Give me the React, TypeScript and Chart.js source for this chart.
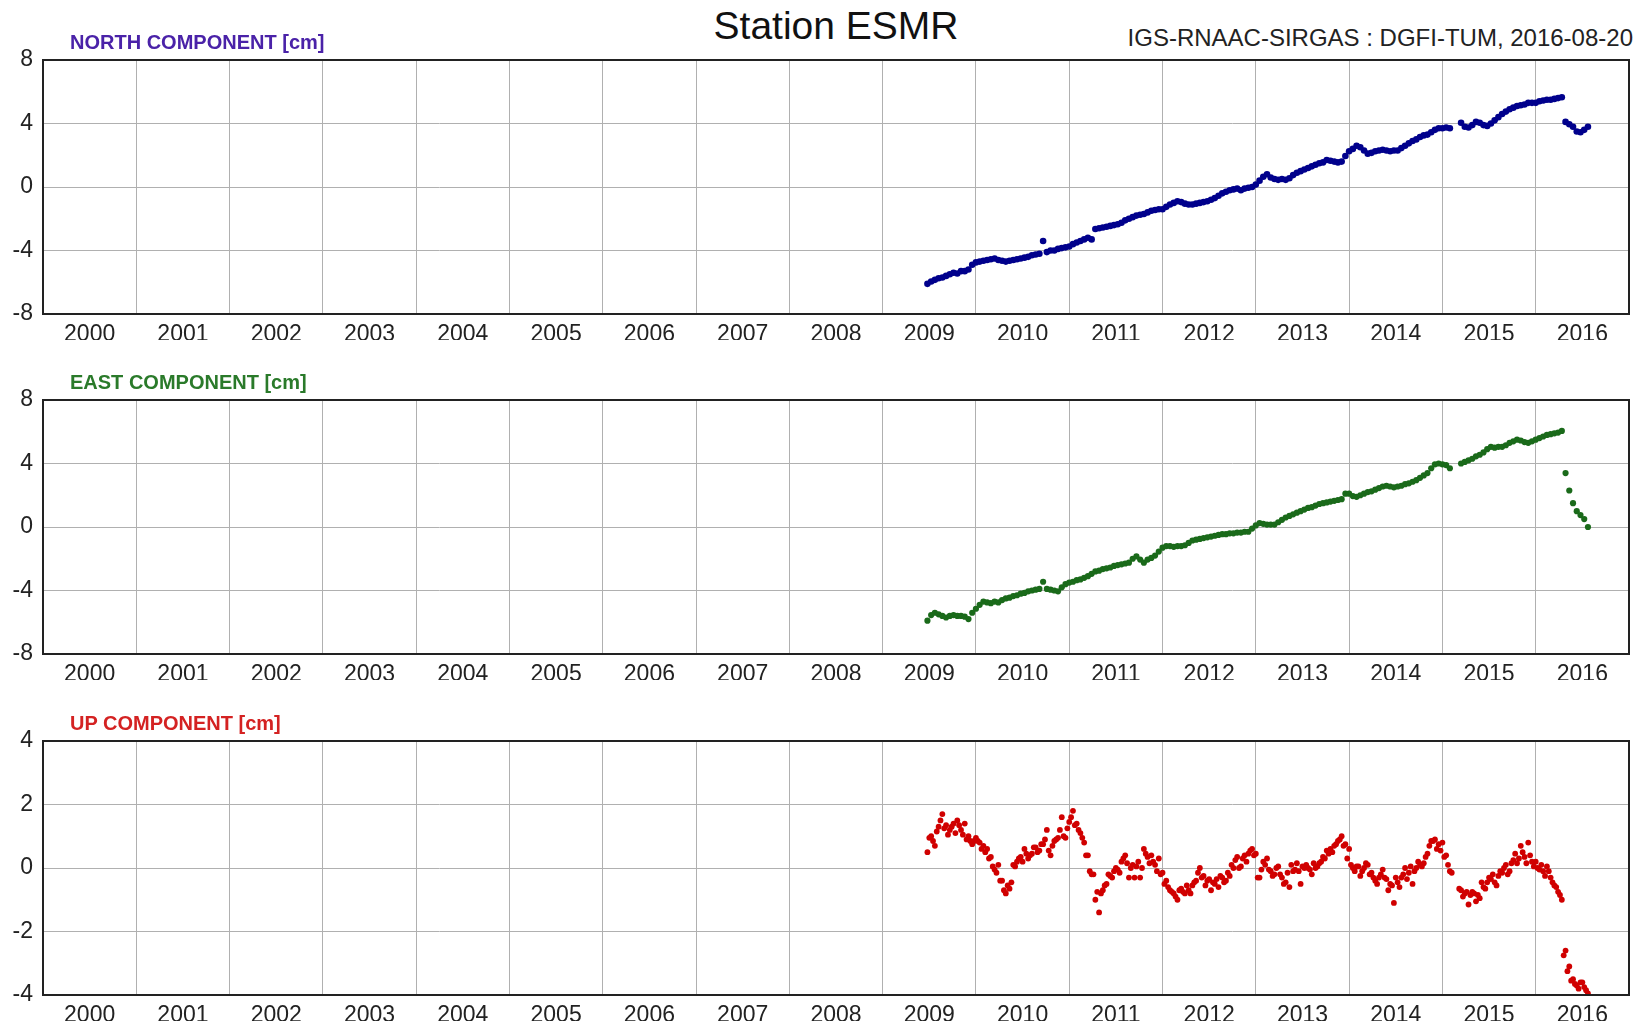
import React, { useEffect, useRef } from 'react';
import { Chart, registerables } from 'chart.js';

Chart.register(...registerables);

// ---- data -------------------------------------------------------------
// bi-weekly solution epochs (decimal years)
const epochs: number[] = [
  2009.48, 2009.52, 2009.56, 2009.60, 2009.64, 2009.68, 2009.72, 2009.76, 2009.80, 2009.84, 2009.88, 2009.92, 2009.96,
  2010.00, 2010.04, 2010.08, 2010.12, 2010.16, 2010.20, 2010.24, 2010.28, 2010.32, 2010.36, 2010.40, 2010.44, 2010.48, 2010.52, 2010.56, 2010.60, 2010.64, 2010.68, 2010.72, 2010.76, 2010.80, 2010.84, 2010.88, 2010.92, 2010.96,
  2011.00, 2011.04, 2011.08, 2011.12, 2011.16, 2011.20, 2011.24, 2011.28, 2011.32, 2011.36, 2011.40, 2011.44, 2011.48, 2011.52, 2011.56, 2011.60, 2011.64, 2011.68, 2011.72, 2011.76, 2011.80, 2011.84, 2011.88, 2011.92, 2011.96,
  2012.00, 2012.04, 2012.08, 2012.12, 2012.16, 2012.20, 2012.24, 2012.28, 2012.32, 2012.36, 2012.40, 2012.44, 2012.48, 2012.52, 2012.56, 2012.60, 2012.64, 2012.68, 2012.72, 2012.76, 2012.80, 2012.84, 2012.88, 2012.92, 2012.96,
  2013.00, 2013.04, 2013.08, 2013.12, 2013.16, 2013.20, 2013.24, 2013.28, 2013.32, 2013.36, 2013.40, 2013.44, 2013.48, 2013.52, 2013.56, 2013.60, 2013.64, 2013.68, 2013.72, 2013.76, 2013.80, 2013.84, 2013.88, 2013.92, 2013.96,
  2014.00, 2014.04, 2014.08, 2014.12, 2014.16, 2014.20, 2014.24, 2014.28, 2014.32, 2014.36, 2014.40, 2014.44, 2014.48, 2014.52, 2014.56, 2014.60, 2014.64, 2014.68, 2014.72, 2014.76, 2014.80, 2014.84, 2014.88, 2014.92, 2014.96,
  2015.00, 2015.04, 2015.08, 2015.12, 2015.16, 2015.20, 2015.24, 2015.28, 2015.32, 2015.36, 2015.40, 2015.44, 2015.48, 2015.52, 2015.56, 2015.60, 2015.64, 2015.68, 2015.72, 2015.76, 2015.80, 2015.84, 2015.88, 2015.92, 2015.96,
  2016.00, 2016.04, 2016.08, 2016.12, 2016.16, 2016.20, 2016.24, 2016.28, 2016.32, 2016.36, 2016.40, 2016.44, 2016.48, 2016.52, 2016.56,
];

const north: (number | null)[] = [
  -6.10, -5.95, -5.85, -5.75, -5.70, -5.60, -5.50, -5.40, -5.45, -5.30, -5.30, -5.20, -4.90,
  -4.75, -4.70, -4.65, -4.60, -4.55, -4.50, -4.60, -4.65, -4.70, -4.65, -4.60, -4.55, -4.50, -4.45, -4.40, -4.30, -4.25, -4.20, -3.40, -4.10, -4.00, -4.00, -3.90, -3.85, -3.80,
  -3.75, -3.60, -3.50, -3.40, -3.30, -3.20, -3.30, -2.65, -2.60, -2.55, -2.50, -2.45, -2.40, -2.35, -2.25, -2.10, -2.00, -1.90, -1.80, -1.75, -1.70, -1.60, -1.50, -1.45, -1.40,
  -1.40, -1.25, -1.10, -1.00, -0.90, -0.95, -1.05, -1.10, -1.10, -1.05, -1.00, -0.95, -0.90, -0.80, -0.70, -0.55, -0.40, -0.30, -0.20, -0.15, -0.10, -0.20, -0.10, -0.05, 0.00,
  0.15, 0.40, 0.65, 0.80, 0.60, 0.50, 0.45, 0.50, 0.45, 0.55, 0.75, 0.90, 1.00, 1.10, 1.20, 1.30, 1.40, 1.50, 1.55, 1.70, 1.65, 1.60, 1.55, 1.60, 1.95,
  2.25, 2.40, 2.60, 2.50, 2.30, 2.10, 2.15, 2.25, 2.30, 2.35, 2.30, 2.25, 2.30, 2.30, 2.45, 2.60, 2.75, 2.90, 3.00, 3.15, 3.25, 3.30, 3.45, 3.60, 3.70,
  3.70, 3.75, 3.70, null, null, 4.05, 3.80, 3.75, 3.90, 4.10, 4.05, 3.90, 3.85, 4.00, 4.20, 4.40, 4.60, 4.75, 4.90, 5.00, 5.10, 5.15, 5.20, 5.30, 5.30,
  5.30, 5.40, 5.45, 5.50, 5.50, 5.55, 5.60, 5.65, 4.10, 3.95, 3.80, 3.50, 3.45, 3.60, 3.80,
];

const east: (number | null)[] = [
  -5.90, -5.55, -5.40, -5.50, -5.60, -5.70, -5.60, -5.55, -5.60, -5.60, -5.65, -5.80, -5.40,
  -5.15, -4.90, -4.70, -4.75, -4.80, -4.70, -4.75, -4.60, -4.50, -4.45, -4.35, -4.30, -4.20, -4.15, -4.05, -4.00, -3.95, -3.90, -3.45, -3.90, -3.95, -4.00, -4.05, -3.80, -3.60,
  -3.50, -3.45, -3.35, -3.30, -3.20, -3.10, -2.95, -2.80, -2.75, -2.65, -2.60, -2.55, -2.45, -2.40, -2.35, -2.30, -2.25, -2.00, -1.85, -2.05, -2.25, -2.05, -1.95, -1.80, -1.55,
  -1.30, -1.20, -1.20, -1.25, -1.20, -1.20, -1.15, -1.00, -0.85, -0.80, -0.75, -0.70, -0.65, -0.60, -0.55, -0.50, -0.45, -0.45, -0.40, -0.40, -0.35, -0.35, -0.30, -0.30, -0.10,
  0.10, 0.25, 0.20, 0.15, 0.15, 0.15, 0.30, 0.45, 0.60, 0.70, 0.80, 0.90, 1.00, 1.10, 1.20, 1.25, 1.35, 1.45, 1.50, 1.55, 1.60, 1.65, 1.70, 1.75, 2.10,
  2.10, 1.95, 1.90, 2.00, 2.10, 2.20, 2.25, 2.35, 2.45, 2.55, 2.60, 2.55, 2.50, 2.55, 2.60, 2.70, 2.75, 2.85, 2.95, 3.10, 3.25, 3.40, 3.70, 3.95, 4.00,
  3.95, 3.90, 3.70, null, null, 4.00, 4.10, 4.20, 4.30, 4.45, 4.55, 4.70, 4.90, 5.05, 5.00, 5.05, 5.05, 5.15, 5.30, 5.40, 5.50, 5.45, 5.35, 5.30, 5.40,
  5.50, 5.60, 5.70, 5.80, 5.85, 5.90, 5.95, 6.05, 3.40, 2.30, 1.50, 1.00, 0.75, 0.50, 0.00,
];

const up: (number | null)[] = [
  0.50, 1.00, 0.70, 1.30, 1.70, 1.35, 1.20, 1.40, 1.50, 1.20, 1.40, 1.00, 0.75,
  0.95, 0.80, 0.70, 0.60, 0.35, -0.05, 0.10, -0.40, -0.80, -0.65, 0.10, 0.20, 0.35, 0.60, 0.30, 0.45, 0.65, 0.55, 0.75, 1.20, 0.40, 0.85, 0.95, 1.60, 0.95,
  1.45, 1.80, 1.40, 1.10, 0.80, 0.40, -0.20, -1.00, -1.40, -0.70, -0.50, -0.25, -0.10, -0.05, 0.20, 0.40, -0.30, 0.10, 0.05, -0.30, 0.60, 0.35, 0.40, 0.10, 0.30,
  -0.15, -0.40, -0.70, -0.80, -1.00, -0.65, -0.80, -0.70, -0.55, -0.40, 0.00, -0.25, -0.40, -0.70, -0.50, -0.60, -0.30, -0.40, -0.25, 0.00, 0.35, 0.05, 0.40, 0.45, 0.60,
  0.45, -0.30, 0.20, 0.30, -0.10, -0.20, 0.05, -0.30, -0.45, -0.60, -0.10, 0.15, -0.50, 0.00, 0.00, -0.20, 0.00, 0.15, 0.35, 0.55, 0.60, 0.70, 0.85, 1.00, 0.75,
  0.60, 0.00, 0.05, -0.25, 0.00, 0.10, -0.15, -0.40, -0.30, -0.05, -0.35, -0.50, -1.10, -0.45, -0.30, 0.00, -0.15, -0.50, 0.00, 0.10, 0.15, 0.45, 0.85, 0.90, 0.75,
  0.80, 0.40, -0.10, null, null, -0.70, -0.80, -1.15, -0.75, -1.05, -0.95, -0.60, -0.45, -0.35, -0.45, -0.25, -0.15, 0.10, -0.10, 0.25, 0.15, 0.70, 0.35, 0.80, 0.20,
  0.20, -0.05, -0.10, 0.05, -0.30, -0.55, -0.75, -1.00, -2.60, -3.10, -3.50, -3.70, -3.60, -3.75, -3.95,
];

// intermediate (in-between week) epochs of the vertical component
const upEpochsB: number[] = [
  2009.50, 2009.54, 2009.58, 2009.62, 2009.66, 2009.70, 2009.74, 2009.78, 2009.82, 2009.86, 2009.90, 2009.94, 2009.98,
  2010.02, 2010.06, 2010.10, 2010.14, 2010.18, 2010.22, 2010.26, 2010.30, 2010.34, 2010.38, 2010.42, 2010.46, 2010.50, 2010.54, 2010.58, 2010.62, 2010.66, 2010.70, 2010.74, 2010.78, 2010.82, 2010.86, 2010.90, 2010.94, 2010.98,
  2011.02, 2011.06, 2011.10, 2011.14, 2011.18, 2011.22, 2011.26, 2011.30, 2011.34, 2011.38, 2011.42, 2011.46, 2011.50, 2011.54, 2011.58, 2011.62, 2011.66, 2011.70, 2011.74, 2011.78, 2011.82, 2011.86, 2011.90, 2011.94, 2011.98,
  2012.02, 2012.06, 2012.10, 2012.14, 2012.18, 2012.22, 2012.26, 2012.30, 2012.34, 2012.38, 2012.42, 2012.46, 2012.50, 2012.54, 2012.58, 2012.62, 2012.66, 2012.70, 2012.74, 2012.78, 2012.82, 2012.86, 2012.90, 2012.94, 2012.98,
  2013.02, 2013.06, 2013.10, 2013.14, 2013.18, 2013.22, 2013.26, 2013.30, 2013.34, 2013.38, 2013.42, 2013.46, 2013.50, 2013.54, 2013.58, 2013.62, 2013.66, 2013.70, 2013.74, 2013.78, 2013.82, 2013.86, 2013.90, 2013.94, 2013.98,
  2014.02, 2014.06, 2014.10, 2014.14, 2014.18, 2014.22, 2014.26, 2014.30, 2014.34, 2014.38, 2014.42, 2014.46, 2014.50, 2014.54, 2014.58, 2014.62, 2014.66, 2014.70, 2014.74, 2014.78, 2014.82, 2014.86, 2014.90, 2014.94, 2014.98,
  2015.02, 2015.06, 2015.10, 2015.14, 2015.18, 2015.22, 2015.26, 2015.30, 2015.34, 2015.38, 2015.42, 2015.46, 2015.50, 2015.54, 2015.58, 2015.62, 2015.66, 2015.70, 2015.74, 2015.78, 2015.82, 2015.86, 2015.90, 2015.94, 2015.98,
  2016.02, 2016.06, 2016.10, 2016.14, 2016.18, 2016.22, 2016.26, 2016.30, 2016.34, 2016.38, 2016.42, 2016.46, 2016.50, 2016.54,
];

const upB: (number | null)[] = [
  0.95, 0.85, 1.15, 1.50, 1.25, 1.05, 1.30, 1.10, 1.35, 1.05, 0.90, 0.85, 0.85,
  0.85, 0.60, 0.50, 0.30, 0.05, -0.15, -0.40, -0.70, -0.55, -0.45, 0.05, 0.30, 0.20, 0.45, 0.40, 0.65, 0.50, 0.75, 0.90, 0.55, 0.70, 0.90, 1.20, 1.00, 1.25,
  1.60, 1.35, 1.20, 0.95, 0.40, -0.10, -0.20, -0.75, -0.80, -0.55, -0.20, -0.30, 0.00, -0.15, 0.30, 0.15, 0.00, -0.30, 0.20, 0.00, 0.45, 0.15, 0.20, -0.10, -0.20,
  -0.50, -0.60, -0.75, -0.90, -0.70, -0.75, -0.55, -0.80, -0.45, -0.15, -0.30, -0.55, -0.35, -0.45, -0.35, -0.25, -0.45, -0.15, 0.10, 0.25, 0.00, 0.30, 0.20, 0.55, 0.40,
  -0.30, -0.05, 0.10, -0.05, -0.25, 0.00, -0.20, -0.50, -0.15, 0.10, -0.05, -0.10, 0.05, 0.10, -0.05, 0.15, 0.05, 0.20, 0.30, 0.45, 0.50, 0.75, 0.90, 0.70, 0.30,
  0.10, -0.10, 0.05, -0.10, 0.15, -0.20, -0.30, -0.50, -0.20, -0.30, -0.70, -0.55, -0.30, -0.60, -0.20, -0.35, 0.05, -0.10, 0.20, 0.05, 0.35, 0.70, 0.85, 0.60, 0.55,
  0.35, 0.10, -0.15, null, -0.65, -0.90, -0.75, -0.85, -0.80, -0.85, -0.45, -0.65, -0.30, -0.20, -0.55, -0.10, 0.00, -0.20, 0.15, 0.45, 0.30, 0.50, 0.15, 0.40, 0.05,
  0.00, 0.10, -0.25, -0.10, -0.45, -0.60, -0.85, -2.75, -3.25, -3.55, -3.65, -3.80, -3.60, -3.85,
];

const yearGrid: number[] = [2000, 2001, 2002, 2003, 2004, 2005, 2006, 2007, 2008, 2009, 2010, 2011, 2012, 2013, 2014, 2015, 2016, 2017];
const yearLabels: string[] = ['2000', '2001', '2002', '2003', '2004', '2005', '2006', '2007', '2008', '2009', '2010', '2011', '2012', '2013', '2014', '2015', '2016', ''];
const horizTicks: number[] = [-8, -4, 0, 4, 8];
const upTicks: number[] = [-4, -2, 0, 2, 4];

const FONT = "'Liberation Sans', Arial, Helvetica, sans-serif";
const W = 1646;
const CANVAS_H = 340;
const PLOT_TOP = 60;
const PLOT_LEFT = 43;
const PLOT_RIGHT = 1629;
const PLOT_BOTTOM = 314;

const framePlugin = {
  id: 'frame',
  afterDraw(chart: any) {
    const { ctx, chartArea } = chart;
    ctx.save();
    ctx.strokeStyle = '#222222';
    ctx.lineWidth = 2;
    ctx.strokeRect(chartArea.left, chartArea.top, chartArea.right - chartArea.left, chartArea.bottom - chartArea.top);
    ctx.restore();
  },
};

type Series = { xs: number[]; ys: (number | null)[] };

type PanelProps = {
  top: number;
  label: string;
  labelColor: string;
  series: Series[];
  color: string;
  radius: number;
  yTicks: number[];
};

function Panel({ top, label, labelColor, series, color, radius, yTicks }: PanelProps) {
  const ref = useRef<HTMLCanvasElement>(null);
  useEffect(() => {
    const yearPx = (PLOT_RIGHT - PLOT_LEFT) / (yearGrid[yearGrid.length - 1] - yearGrid[0]);
    const datasets = series.map((s) => ({
      data: s.xs.map((x, i) => ({ x, y: s.ys[i] })) as any,
      backgroundColor: color,
      borderColor: color,
      pointRadius: radius,
      pointBorderWidth: 0,
      pointHoverRadius: radius,
      showLine: false,
    }));
    const chart = new Chart(ref.current as HTMLCanvasElement, {
      type: 'scatter',
      data: { datasets },
      options: {
        animation: false,
        responsive: false,
        maintainAspectRatio: false,
        events: [],
        layout: { padding: { left: 0, right: W - PLOT_RIGHT, top: PLOT_TOP, bottom: 0 } },
        plugins: { legend: { display: false }, tooltip: { enabled: false }, title: { display: false } },
        scales: {
          x: {
            type: 'linear',
            min: yearGrid[0],
            max: yearGrid[yearGrid.length - 1],
            afterBuildTicks: (s: any) => {
              s.ticks = yearGrid.map((v) => ({ value: v }));
            },
            afterFit: (s: any) => {
              s.height = CANVAS_H - PLOT_BOTTOM;
            },
            grid: { color: '#b0b0b0', lineWidth: 1, drawTicks: false },
            border: { display: false },
            ticks: {
              autoSkip: false,
              maxRotation: 0,
              minRotation: 0,
              labelOffset: yearPx / 2,
              padding: 7,
              color: '#222222',
              font: { family: FONT, size: 23 },
              callback: (v: any) => yearLabels[yearGrid.indexOf(Number(v))] ?? '',
            },
          },
          y: {
            type: 'linear',
            min: yTicks[0],
            max: yTicks[yTicks.length - 1],
            afterBuildTicks: (s: any) => {
              s.ticks = yTicks.map((v) => ({ value: v }));
            },
            afterFit: (s: any) => {
              s.width = PLOT_LEFT;
            },
            grid: { color: '#b0b0b0', lineWidth: 1, drawTicks: false },
            border: { display: false },
            ticks: {
              padding: 10,
              color: '#222222',
              font: { family: FONT, size: 23 },
              callback: (v: any) => String(v),
            },
          },
        },
      },
      plugins: [framePlugin],
    });
    return () => chart.destroy();
  }, []);

  return (
    <>
      <canvas
        ref={ref}
        width={W}
        height={CANVAS_H}
        style={{ position: 'absolute', left: 0, top: top - PLOT_TOP, width: W, height: CANVAS_H, display: 'block' }}
      />
      <div
        style={{
          position: 'absolute',
          left: 70,
          top: top - 11 - 17,
          fontFamily: FONT,
          fontWeight: 'bold',
          fontSize: 20,
          lineHeight: '20px',
          color: labelColor,
          whiteSpace: 'nowrap',
        }}
      >
        {label}
      </div>
    </>
  );
}

export default function App() {
  return (
    <div style={{ position: 'absolute', left: 0, top: 0, width: W, height: 1025, background: '#ffffff', overflow: 'hidden' }}>
      <div
        style={{
          position: 'absolute',
          left: 836,
          top: 6,
          transform: 'translateX(-50%)',
          fontFamily: FONT,
          fontSize: 39,
          lineHeight: '39px',
          color: '#111111',
          whiteSpace: 'nowrap',
        }}
      >
        Station ESMR
      </div>
      <div
        style={{
          position: 'absolute',
          right: W - 1633,
          top: 26,
          fontFamily: FONT,
          fontSize: 24,
          lineHeight: '24px',
          color: '#222222',
          whiteSpace: 'nowrap',
        }}
      >
        IGS-RNAAC-SIRGAS : DGFI-TUM, 2016-08-20
      </div>
      <Panel top={60} label="NORTH COMPONENT [cm]" labelColor="#4a22a8" series={[{ xs: epochs, ys: north }]} color="#00008c" radius={3.3} yTicks={horizTicks} />
      <Panel top={400} label="EAST COMPONENT [cm]" labelColor="#2a7a2a" series={[{ xs: epochs, ys: east }]} color="#1a6a1a" radius={3.1} yTicks={horizTicks} />
      <Panel
        top={741}
        label="UP COMPONENT [cm]"
        labelColor="#d42222"
        series={[{ xs: epochs, ys: up }, { xs: upEpochsB, ys: upB }]}
        color="#d00000"
        radius={2.9}
        yTicks={upTicks}
      />
    </div>
  );
}
